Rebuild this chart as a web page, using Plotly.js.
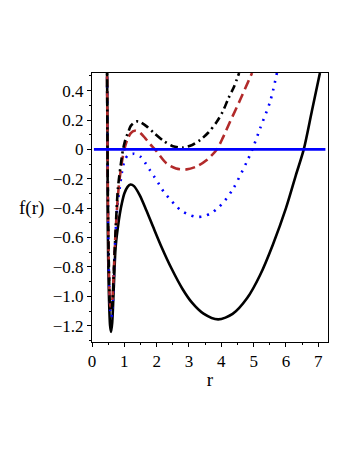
<!DOCTYPE html>
<html>
<head>
<meta charset="utf-8">
<script src="https://cdn.plot.ly/plotly-3.0.1.min.js"></script>
<style>
  html, body { margin: 0; padding: 0; background: #fff; }
  #plot { width: 354px; height: 458px; }
</style>
</head>
<body>
<div id="plot"></div>
<script>
// values
var r1 = [0.465, 0.48, 0.49, 0.52, 0.56, 0.59, 0.625, 0.67, 0.72, 0.75, 0.8, 0.86, 0.93, 1.0, 1.1, 1.19, 1.3, 1.475, 1.68, 1.89, 2.15, 2.46, 2.8, 3.1, 3.45, 3.9, 4.35, 4.8, 5.2, 5.6, 6.0, 6.3, 6.55, 6.8, 7.05];
var f1 = [0.6, 0.05, -0.55, -0.96, -1.2, -1.243, -1.18, -0.96, -0.7, -0.62, -0.53, -0.44, -0.36, -0.3, -0.255, -0.239, -0.25, -0.311, -0.414, -0.527, -0.664, -0.811, -0.95, -1.045, -1.118, -1.157, -1.12, -1.012, -0.855, -0.645, -0.4, -0.18, 0.0, 0.26, 0.52];

var r2 = [0.465, 0.48, 0.5, 0.53, 0.565, 0.6, 0.635, 0.67, 0.72, 0.8, 0.86, 0.93, 1.01, 1.11, 1.3, 1.48, 1.64, 1.79, 1.94, 2.08, 2.22, 2.39, 2.56, 2.74, 2.96, 3.21, 3.46, 3.7, 3.91, 4.08, 4.37, 4.79, 4.96, 5.2, 5.51, 5.72];
var f2 = [0.6, 0.0, -0.5, -0.9, -1.1, -1.14, -1.07, -0.9, -0.6, -0.35, -0.26, -0.15, -0.075, -0.04, -0.03, -0.046, -0.09, -0.141, -0.191, -0.239, -0.289, -0.334, -0.375, -0.414, -0.441, -0.459, -0.455, -0.432, -0.395, -0.357, -0.266, -0.084, 0.0, 0.143, 0.325, 0.52];

var r3 = [0.465, 0.48, 0.5, 0.53, 0.565, 0.6, 0.635, 0.67, 0.72, 0.8, 0.86, 0.93, 1.0, 1.1, 1.2, 1.32, 1.48, 1.65, 1.8, 1.95, 2.3, 2.6, 2.93, 3.25, 3.55, 3.86, 4.05, 4.27, 4.58, 4.95];
var f3 = [0.6, 0.0, -0.5, -0.88, -1.06, -1.08, -1.01, -0.85, -0.6, -0.32, -0.19, -0.08, 0.0, 0.07, 0.11, 0.127, 0.115, 0.075, 0.035, 0.0, -0.095, -0.13, -0.136, -0.115, -0.073, 0.0, 0.08, 0.188, 0.336, 0.52];

var r4 = [0.465, 0.48, 0.5, 0.53, 0.565, 0.6, 0.635, 0.67, 0.72, 0.8, 0.88, 0.96, 1.05, 1.11, 1.2, 1.37, 1.5, 1.7, 1.9, 2.2, 2.5, 2.82, 3.1, 3.34, 3.6, 3.86, 4.05, 4.22, 4.4, 4.55];
var f4 = [0.6, 0.0, -0.5, -0.88, -1.08, -1.1, -1.03, -0.86, -0.6, -0.27, -0.12, 0.0, 0.08, 0.11, 0.16, 0.19, 0.185, 0.155, 0.115, 0.06, 0.022, 0.013, 0.03, 0.063, 0.115, 0.188, 0.26, 0.348, 0.43, 0.52];

var zeroR = [0.06, 7.22];
var zeroF = [0, 0];

var yTicks = [0.4, 0.2, 0, -0.2, -0.4, -0.6, -0.8, -1.0, -1.2];
var yTickText = ['0.4', '0.2', '0', '\u22120.2', '\u22120.4', '\u22120.6', '\u22120.8', '\u22121.0', '\u22121.2'];

var trace1 = {
  x: r1, y: f1, mode: 'lines', type: 'scatter',
  line: {color: '#000000', width: 2.6, shape: 'spline', smoothing: 0.8}
};
var trace2 = {
  x: r2, y: f2, mode: 'lines', type: 'scatter',
  line: {color: '#0000ff', width: 2.6, dash: '2px,6px', shape: 'spline', smoothing: 0.8}
};
var trace3 = {
  x: r3, y: f3, mode: 'lines', type: 'scatter',
  line: {color: '#b22a2a', width: 2.6, dash: '10px,5px', shape: 'spline', smoothing: 0.8}
};
var trace4 = {
  x: r4, y: f4, mode: 'lines', type: 'scatter',
  line: {color: '#000000', width: 2.6, dash: '8px,4px,2px,4px', shape: 'spline', smoothing: 0.8}
};
var trace5 = {
  x: zeroR, y: zeroF, mode: 'lines', type: 'scatter',
  line: {color: '#0000ff', width: 2.6}
};

var data = [trace1, trace2, trace3, trace4, trace5];
var font = {family: 'Liberation Serif, Times New Roman, serif', size: 17, color: '#000'};

var layout = {
  width: 354,
  height: 458,
  showlegend: false,
  paper_bgcolor: '#fff',
  plot_bgcolor: '#fff',
  margin: {l: 92, r: 26, t: 73, b: 116},
  font: font,
  xaxis: {
    range: [0, 7.3],
    dtick: 1, tick0: 0,
    ticks: 'outside', ticklen: 4, tickcolor: '#000',
    minor: {dtick: 0.5, ticks: 'outside', ticklen: 2, tickcolor: '#000'},
    showline: true, linecolor: '#000', linewidth: 1, mirror: true,
    showgrid: false, zeroline: false,
    tickfont: font,
    title: {text: 'r', font: {family: font.family, size: 19, color: '#000'}, standoff: 2}
  },
  yaxis: {
    range: [-1.311, 0.52],
    tickvals: yTicks, ticktext: yTickText,
    ticks: 'outside', ticklen: 4, tickcolor: '#000',
    minor: {dtick: 0.1, ticks: 'outside', ticklen: 2, tickcolor: '#000'},
    showline: true, linecolor: '#000', linewidth: 1, mirror: true,
    showgrid: false, zeroline: false,
    tickfont: font
  },
  annotations: [{
    text: 'f(r)', xref: 'paper', yref: 'paper',
    x: -0.255, y: 0.5, xanchor: 'center', yanchor: 'middle',
    showarrow: false, font: {family: font.family, size: 19, color: '#000'}
  }]
};

Plotly.newPlot('plot', data, layout, {displayModeBar: false, staticPlot: true});
</script>
</body>
</html>
